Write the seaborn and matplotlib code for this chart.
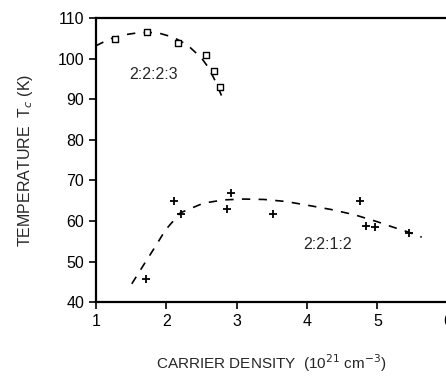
import numpy as np
import pandas as pd
import matplotlib
matplotlib.use("Agg")
import matplotlib.pyplot as plt
import seaborn as sns

# 2:2:2:3 points (squares) and dashed fit
x_2223 = [1.27, 1.72, 2.17, 2.57, 2.68, 2.77]
tc_2223 = [104.8, 106.6, 103.8, 101.0, 97.0, 93.0]
fit_x_2223 = [1.0, 1.2, 1.4, 1.6, 1.75, 1.9, 2.1, 2.3, 2.5, 2.6, 2.7, 2.8]
fit_tc_2223 = [103.2, 104.9, 105.9, 106.4, 106.5, 106.3, 105.3, 103.4, 100.2, 97.8, 94.4, 90.3]

# 2:2:1:2 points (crosses) and dashed fit
x_2212 = [1.71, 2.11, 2.21, 2.87, 2.92, 3.52, 4.75, 4.84, 4.97, 5.45]
tc_2212 = [45.8, 64.9, 61.6, 62.9, 66.8, 61.6, 65.0, 58.8, 58.6, 57.0]
fit_x_2212 = [1.51, 1.68, 1.83, 1.99, 2.2, 2.53, 2.82, 3.1, 3.39, 3.7, 4.0, 4.35, 4.68, 5.0, 5.2, 5.45, 5.63]
fit_tc_2212 = [44.5, 49.2, 53.3, 57.8, 62.0, 64.4, 65.2, 65.4, 65.3, 64.8, 63.9, 62.8, 61.5, 59.8, 58.6, 57.2, 56.0]

xticks = [1, 2, 3, 4, 5, 6]
yticks = [40, 50, 60, 70, 80, 90, 100, 110]

sns.set_style("ticks")
plt.rcParams['font.family'] = ['Liberation Sans', 'DejaVu Sans']

fig = plt.figure(figsize=(4.46, 3.79), dpi=100)
ax = fig.add_axes([0.215, 0.203, 0.789, 0.749])

sns.lineplot(x=fit_x_2223, y=fit_tc_2223, ax=ax, color="black", lw=1.2,
             linestyle=(0, (5, 5)), sort=False)
sns.lineplot(x=fit_x_2212, y=fit_tc_2212, ax=ax, color="black", lw=1.2,
             linestyle=(0, (5, 5)), sort=False)
sns.scatterplot(x=x_2223, y=tc_2223, ax=ax, marker="s", s=14,
                facecolor="white", edgecolor="black", linewidth=1.0, zorder=3)
sns.scatterplot(x=x_2212, y=tc_2212, ax=ax, marker="+", s=40,
                color="black", linewidth=1.3, zorder=3)

ax.text(1.82, 96, "2:2:2:3", fontsize=11.5, ha="center", va="center")
ax.text(4.29, 54.1, "2:2:1:2", fontsize=11.5, ha="center", va="center")

ax.set_xlim(1, 6)
ax.set_ylim(40, 110)
ax.set_xticks(xticks)
ax.set_yticks(yticks)
ax.tick_params(direction="out", length=5, width=1.2, labelsize=11.5, colors="black")
for s in ax.spines.values():
    s.set_linewidth(1.6)
    s.set_color("black")

ax.set_xlabel(r"CARRIER DENSITY  (10$^{21}$ cm$^{-3}$)", fontsize=11, labelpad=17)
ax.set_ylabel(r"TEMPERATURE  T$_c$ (K)", fontsize=11.5, labelpad=16)

fig.savefig("out.png", dpi=100)
